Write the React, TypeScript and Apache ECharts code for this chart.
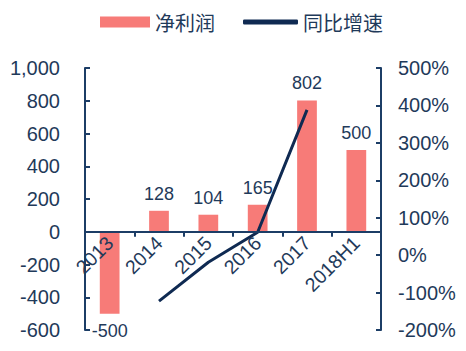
import React, { useEffect, useRef } from "react";
import * as echarts from "echarts";

const categories = ["2013", "2014", "2015", "2016", "2017", "2018H1"];
const netProfit = [-500, 128, 104, 165, 802, 500];
const growth = [null, -123, -19, 61, 388, null];
const leftTicks = { min: -600, max: 1000, interval: 200 };
const rightTicks = { min: -200, max: 500, interval: 100 };

const AXIS = "#1c3d66";
const TEXT = "#1f3a5a";
const BAR = "#f77b78";
const LINE = "#0f2a52";
const FONT = "Liberation Sans, Arial, sans-serif";
const CJK = "Noto Sans CJK SC";

const W = 466;
const H = 351;
const GRID = { left: 85, right: 85, top: 68, bottom: 21 };

export default function App() {
  const ref = useRef<HTMLDivElement>(null);
  useEffect(() => {
    const chart = echarts.init(ref.current!, null, { renderer: "svg" });
    const plotH = H - GRID.top - GRID.bottom;
    const zeroOffset = -((0 - leftTicks.min) / (leftTicks.max - leftTicks.min)) * plotH;
    chart.setOption({
      animation: false,
      textStyle: { fontFamily: FONT },
      legend: [
        {
          top: 7,
          left: 95,
          itemWidth: 50,
          itemHeight: 11,
          textStyle: { fontSize: 20, color: TEXT, fontFamily: CJK },
          data: [{ name: "净利润", icon: "rect" }],
        },
        {
          top: 7,
          left: 238,
          itemWidth: 55,
          itemHeight: 5,
          textStyle: { fontSize: 20, color: TEXT, fontFamily: CJK },
          data: [{ name: "同比增速", icon: "roundRect" }],
        },
      ],
      grid: { ...GRID, containLabel: false, outerBoundsMode: "none" },
      xAxis: {
        type: "category",
        data: categories,
        position: "bottom",
        offset: zeroOffset,
        z: 5,
        axisLine: { onZero: false, lineStyle: { color: AXIS, width: 2 } },
        axisTick: { show: true, length: 5, inside: false, lineStyle: { color: AXIS, width: 2 } },
        axisLabel: { rotate: 45, fontSize: 19.5, color: TEXT, margin: 8, interval: 0 },
      },
      yAxis: [
        {
          type: "value",
          min: leftTicks.min,
          max: leftTicks.max,
          interval: leftTicks.interval,
          axisLine: { show: true, lineStyle: { color: AXIS, width: 2 } },
          axisTick: { show: true, inside: true, length: 5, lineStyle: { color: AXIS, width: 2 } },
          splitLine: { show: false },
          axisLabel: {
            fontSize: 20,
            color: TEXT,
            margin: 25,
            formatter: (v: number) => v.toLocaleString("en-US"),
          },
        },
        {
          type: "value",
          min: rightTicks.min,
          max: rightTicks.max,
          interval: rightTicks.interval,
          axisLine: { show: true, lineStyle: { color: AXIS, width: 2 } },
          axisTick: { show: true, inside: true, length: 5, lineStyle: { color: AXIS, width: 2 } },
          splitLine: { show: false },
          axisLabel: { fontSize: 20, color: TEXT, margin: 17, formatter: "{value}%" },
        },
      ],
      series: [
        {
          name: "净利润",
          type: "bar",
          yAxisIndex: 0,
          barWidth: "40%",
          itemStyle: { color: BAR },
          data: netProfit.map((v) => ({
            value: v,
            label: {
              show: true,
              position: v < 0 ? "bottom" : "top",
              distance: 8,
              fontSize: 18,
              color: TEXT,
            },
          })),
        },
        {
          name: "同比增速",
          type: "line",
          yAxisIndex: 1,
          data: growth,
          showSymbol: false,
          symbol: "none",
          lineStyle: { color: LINE, width: 3 },
          itemStyle: { color: LINE },
        },
      ],
    });
    return () => chart.dispose();
  }, []);
  return <div ref={ref} style={{ width: W, height: H, margin: -8 }} />;
}
